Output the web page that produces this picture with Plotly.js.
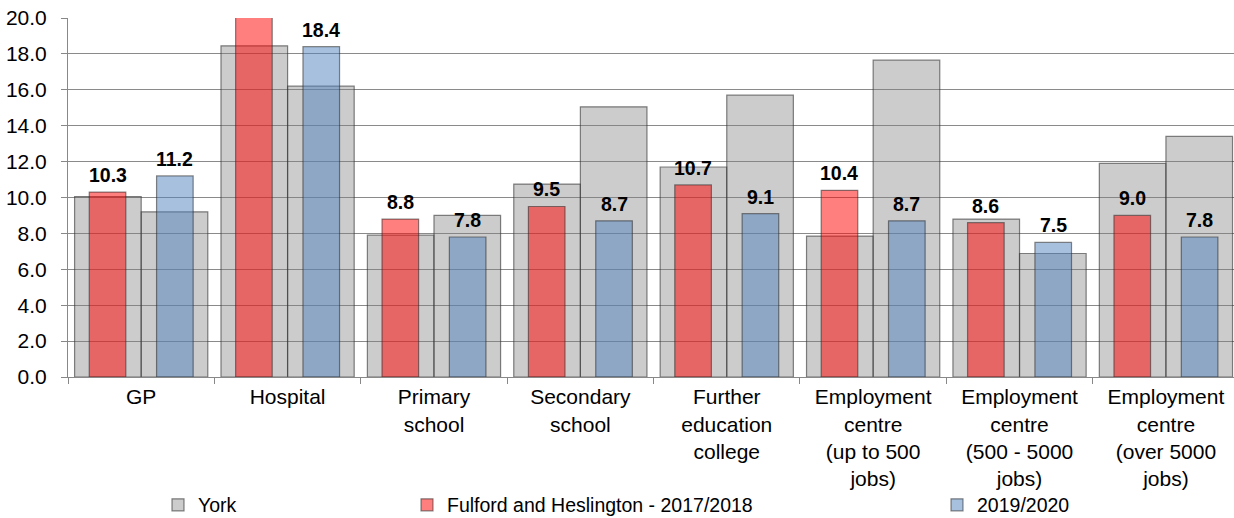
<!DOCTYPE html>
<html>
<head>
<meta charset="utf-8">
<script src="https://cdn.plot.ly/plotly-3.0.1.min.js"></script>
<style>html,body{margin:0;padding:0;background:#fff;}#chart{width:1234px;height:518px;}</style>
</head>
<body>
<div id="chart"></div>
<script>
// ---- data ----
var categories = ['GP', 'Hospital', 'Primary<br>school', 'Secondary<br>school',
  'Further<br>education<br>college', 'Employment<br>centre<br>(up to 500<br>jobs)',
  'Employment<br>centre<br>(500 - 5000<br>jobs)', 'Employment<br>centre<br>(over 5000<br>jobs)'];
var york2017 = [10.05, 18.45, 7.9, 10.75, 11.7, 7.85, 8.8, 11.9];
var york2019 = [9.2, 16.2, 9.0, 15.05, 15.7, 17.65, 6.88, 13.4];
var fulford2017 = [10.3, 22.0, 8.8, 9.5, 10.7, 10.4, 8.6, 9.0];
var fulford2019 = [11.2, 18.4, 7.8, 8.7, 9.1, 8.7, 7.5, 7.8];
var seriesNames = ['York', 'Fulford and Heslington - 2017/2018', '2019/2020'];
var yMax = 20;

// ---- styles ----
var FONT = 'Liberation Sans, Arial, sans-serif';
var greyFill = 'rgba(128,128,128,0.4)';
var greyLine = 'rgba(50,50,50,0.6)';
var redFill = 'rgba(255,0,0,0.5)';
var blueFill = 'rgba(79,129,189,0.5)';
var barLine = 'rgba(40,40,40,0.55)';
var greyW = 0.455, colW = 0.25;
var redOff = -0.355, blueOff = 0.105;

var traces = [
  {type: 'bar', x: categories, y: york2017, name: seriesNames[0], width: greyW, offset: -greyW,
   marker: {color: greyFill, line: {color: greyLine, width: 1.2}}, legend: 'legend', hoverinfo: 'y'},
  {type: 'bar', x: categories, y: york2019, name: seriesNames[0], width: greyW, offset: 0,
   marker: {color: greyFill, line: {color: greyLine, width: 1.2}}, showlegend: false, hoverinfo: 'y'},
  {type: 'bar', x: categories, y: fulford2017, name: seriesNames[1], width: colW, offset: redOff,
   marker: {color: redFill, line: {color: barLine, width: 1.2}}, legend: 'legend2', hoverinfo: 'y'},
  {type: 'bar', x: categories, y: fulford2019, name: seriesNames[2], width: colW, offset: blueOff,
   marker: {color: blueFill, line: {color: barLine, width: 1.2}}, legend: 'legend3', hoverinfo: 'y'}
];

var annotations = [];
function addLabels(vals, off) {
  vals.forEach(function (v, i) {
    if (v > yMax) return; // clipped by the axis range, as in the original
    annotations.push({x: i + off + colW / 2, y: v, xref: 'x', yref: 'y', text: '<b>' + v.toFixed(1) + '</b>',
      showarrow: false, yanchor: 'bottom', yshift: 4, font: {family: FONT, size: 19.5, color: '#000'}});
  });
}
addLabels(fulford2017, redOff);
addLabels(fulford2019, blueOff);

var legendBase = {orientation: 'h', yanchor: 'middle', y: -0.357, xanchor: 'left',
  font: {family: FONT, size: 19.5, color: '#000'}, bgcolor: 'rgba(0,0,0,0)', borderwidth: 0};

var layout = {
  width: 1234, height: 518,
  margin: {l: 68, r: 0, t: 18, b: 141, autoexpand: false},
  paper_bgcolor: '#fff', plot_bgcolor: '#fff',
  barmode: 'overlay',
  font: {family: FONT, size: 21, color: '#000'},
  xaxis: {
    type: 'category', range: [-0.5, 7.465], tickson: 'boundaries', ticks: 'outside', ticklen: 6,
    tickcolor: '#888', showline: true, linecolor: '#888', linewidth: 1, showgrid: false,
    tickfont: {family: FONT, size: 21, color: '#000'}, ticklabelstandoff: 1, fixedrange: true
  },
  yaxis: {
    range: [0, yMax], dtick: 2, tickformat: '.1f', ticks: 'outside', ticklen: 6, tickcolor: '#888',
    showline: true, linecolor: '#888', linewidth: 1, showgrid: true, gridcolor: '#8a8a8a', gridwidth: 1,
    zeroline: false, tickfont: {family: FONT, size: 21, color: '#000'}, ticklabelstandoff: 10, fixedrange: true
  },
  legend: Object.assign({}, legendBase, {x: (158 - 68) / 1166}),
  legend2: Object.assign({}, legendBase, {x: (407 - 68) / 1166}),
  legend3: Object.assign({}, legendBase, {x: (937 - 68) / 1166}),
  annotations: annotations,
  showlegend: true
};

Plotly.newPlot('chart', traces, layout, {displayModeBar: false, staticPlot: true});
</script>
</body>
</html>
